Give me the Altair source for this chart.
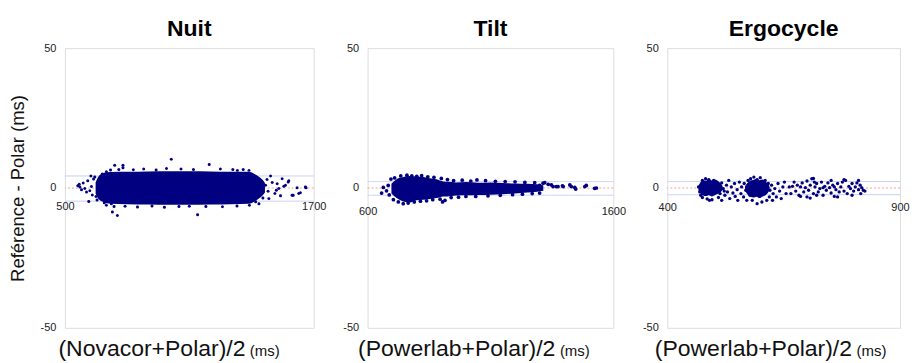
import altair as alt
import pandas as pd

FONT = "Liberation Sans"
NAVY = "#000080"
H = 280

# ---------------- Nuit ----------------
nuit_core_x = [648, 660, 684, 720, 800, 900, 1000, 1100, 1200, 1300, 1388, 1415, 1436, 1452, 1465]
nuit_core_hi = [2.0, 3.9, 5.4, 5.7, 5.8, 5.9, 6.0, 6.0, 5.9, 5.8, 5.8, 5.0, 4.0, 3.0, 1.8]
nuit_core_lo = [-2.0, -3.8, -5.0, -5.6, -5.8, -5.9, -6.0, -6.0, -5.9, -5.8, -5.6, -4.8, -3.8, -2.8, -1.6]
nuit_pts_x = [562, 569, 572, 580, 588, 596, 604, 610, 615, 620, 625, 628, 632, 638, 644, 650, 655,
              680, 700, 720, 740, 780, 780, 760, 830, 880, 940, 990, 1013, 1060, 1120, 1196, 1250, 1310, 1332, 1388, 1360,
              690, 724, 729, 737, 753, 700, 790, 850, 920, 980, 1050, 1140, 1100, 1180, 1260, 1330, 1390, 1436, 1420,
              1468, 1484, 1492, 1500, 1513, 1520, 1524, 1532, 1540, 1548, 1556, 1564, 1577, 1580, 1596, 1601, 1620,
              1628, 1636, 1660, 1663, 1475, 1455, 1480]
nuit_pts_y = [0.8, 1.3, 0.4, -0.6, 1.8, -0.2, -1.4, 2.6, -4.8, -1.0, 4.3, 0.5, -2.5, 3.2, 3.9, -3.0, -4.3,
              5.0, 5.8, 6.4, 8.1, 8.1, 7.2, 6.6, 6.5, 6.8, 6.4, 7.0, 10.3, 6.8, 6.6, 8.4, 6.8, 6.6, 6.3, 6.3, 6.6,
              -5.3, -5.6, -8.6, -6.6, -9.8, -6.2, -6.5, -6.8, -6.4, -6.9, -6.6, -9.6, -6.5, -6.6, -6.7, -6.4, -6.2, -5.6, -4.9,
              1.0, -3.8, 4.3, 2.0, -2.0, -0.8, 1.5, -0.2, -2.8, 3.3, 0.6, 1.0, 2.1, 2.6, -2.6, -2.6, 0.1,
              -2.0, -1.7, 0.4, 0.1, 3.0, -3.6, -1.2]
nuit_lines = [4.3, 0.0, -4.7]

# ---------------- Tilt ----------------
tilt_core_x = [697, 718, 745, 772, 799, 826, 853, 880, 908, 925, 960, 1000, 1050, 1100, 1150, 1200, 1250, 1290, 1315]
tilt_core_hi = [1.5, 3.1, 3.9, 4.3, 4.1, 3.9, 3.5, 3.1, 2.3, 2.2, 2.0, 2.1, 1.9, 2.0, 1.8, 1.6, 1.5, 1.3, 1.0]
tilt_core_lo = [-2.0, -3.6, -4.8, -5.2, -4.4, -4.2, -3.9, -3.6, -3.0, -3.0, -2.7, -2.6, -2.5, -2.4, -2.2, -2.0, -1.6, -1.3, -1.0]
tilt_pts_x = [657, 664, 677, 684, 688, 695,
              710, 735, 760, 780, 800, 820, 845, 870, 900, 925, 950, 985, 1020, 1045, 1080, 1120, 1160, 1200, 1240, 1280,
              705, 725, 745, 765, 790, 815, 840, 865, 895, 905, 915, 940, 970, 1000, 1040, 1090, 1140, 1190, 1230, 1270, 1300,
              1300, 1314, 1321, 1335, 1348, 1355, 1368, 1375, 1393, 1396, 1423, 1429, 1443, 1447, 1484, 1490, 1524, 1531]
tilt_pts_y = [-1.8, 0.2, -1.0, 0.9, -2.5, 3.2,
              3.6, 4.3, 4.6, 4.3, 4.2, 4.4, 4.0, 3.8, 3.4, 3.0, 2.6, 2.8, 2.5, 2.9, 2.6, 2.4, 2.3, 2.2, 2.0, 1.9,
              -4.2, -5.0, -5.6, -5.4, -5.0, -4.7, -4.6, -4.2, -4.0, -5.0, -4.4, -3.4, -3.3, -3.0, -3.0, -2.8, -2.6, -2.4, -2.2, -2.0, -1.8,
              0.9, 1.7, 1.9, 1.3, 1.1, 0.5, 0.5, 0.5, 0.8, 0.5, 1.1, 0.5, 0.2, -0.4, 0.5, 0.9, -0.1, 0.0]
tilt_lines = [2.3, 0.0, -2.6]

# ---------------- Ergocycle ----------------
ergo_blob1_x = [467, 471, 476, 483, 489, 496, 503, 509, 514, 519]
ergo_blob1_hi = [0.8, 2.0, 2.8, 2.6, 3.2, 2.7, 3.0, 2.4, 1.8, 0.6]
ergo_blob1_lo = [-1.0, -1.9, -2.6, -2.9, -2.6, -3.0, -2.5, -2.1, -1.6, -0.6]
ergo_blob2_x = [567, 572, 578, 585, 592, 598, 605, 611, 616, 620]
ergo_blob2_hi = [0.6, 1.8, 2.6, 2.9, 3.3, 2.8, 3.0, 2.2, 1.6, 0.4]
ergo_blob2_lo = [-1.0, -2.2, -3.0, -3.4, -3.1, -3.6, -3.0, -2.6, -1.8, -0.6]
ergo_pts_x = [467.1, 469.8, 475.4, 482.3, 489.2, 499.6, 506.5, 511.3, 513.4, 510, 496.1, 485.7, 475.4, 471.9, 490.6,
              516.9, 520.3, 523.8, 527.2, 529.3, 532.1, 534.2, 537.6, 541.1, 544.5, 545.9, 550.1, 551.4, 554.9, 558.3,
              559.7, 563.9, 565.3, 568.7, 570.8, 573.6, 516.9, 522.4,
              575.6, 579.1, 586, 593, 599.8, 610.2, 617.1, 620.6, 619.2, 613.7, 603.3, 593, 582.6, 577.7,
              624.1, 627.5, 631, 634.4, 637.9, 641.3, 644.8, 648.3, 651.7, 655.2, 626.1,
              665.6, 669, 672.5, 676, 679.4, 682.9, 686.3, 689.8, 693.2, 696.7, 700.2, 703.6, 707.1, 710.5, 714,
              717.4, 720.9, 724.4, 727.8, 731.3, 734.7, 738.2, 741.7, 745.1, 748.6, 752, 755.5, 758.9, 762.4, 765.9,
              769.3, 772.8, 776.2, 779.7, 783.1, 786.6, 790.1, 793.5, 797, 800.4, 803.9, 807.4, 810.8, 814.3, 817.7,
              821.2, 824.6, 700.2, 720.9, 752, 765.9, 779.7, 797, 810.8, 815.7, 758.9, 734.7, 716, 686.3, 662.1,
              714, 707]
ergo_pts_y = [0.4, -1.4, 2.7, 3.3, 3.0, 2.7, 2.1, 1.0, -2.0, -3.4, -4.2, -3.9, -3.4, -2.6, -4.4,
              1.8, -0.2, -2.6, 1.0, -1.4, 2.7, -3.8, 0.4, -1.8, 1.6, -3.0, -0.6, -4.4, 2.1, -2.0,
              0.4, -3.2, 1.6, -0.8, -4.4, 2.7, -4.4, -1.1,
              1.0, 3.3, 3.9, 3.0, 3.7, 2.7, 1.6, -0.8, -3.2, -4.4, -5.0, -5.6, -4.4, -2.6,
              1.0, -2.0, -0.2, -3.2, 1.6, -1.1, -3.8, 0.4, 2.1, -2.0, -4.4,
              -2.0, 0.6, 2.1, -1.1, 1.0, -2.6, 0.4, 1.8, -1.4, 0.1, 2.5, -0.8, 1.0, 3.3, -2.0,
              0.4, 1.6, -1.4, -0.2, 2.1, -2.6, 0.6, -0.8, 1.8, 0.1, -1.8, 1.0, -3.0, -0.6, 1.6,
              -1.4, 0.4, 2.1, -1.1, 2.7, -2.0, 0.6, -0.2, 1.6, -1.1, 0.4, 1.8, -0.6, 1.0, 0.1,
              -0.8, -1.1, -3.2, -2.6, 2.7, -3.2, 3.0, -2.6, 2.7, -2.0, 0.4, 0.1, 2.1, -3.0, 0.4,
              3.4, -3.6]
ergo_lines = [2.3, 0.0, -2.4]

line_kinds = ["upper", "mean", "lower"]


def build_panel(title, xdomain, xtitle, width, cores, pts_x, pts_y, lines, line_colors, line_dashes,
                pt_size, lab_pad, show_ytitle, title_x, ms_x):
    xenc = alt.X("x:Q",
                 scale=alt.Scale(domain=xdomain, nice=False, zero=False),
                 axis=alt.Axis(values=xdomain, offset=-H / 2, ticks=False, domain=False, grid=False,
                               labelFlush=False, labelPadding=lab_pad, labelFontSize=11, labelFont=FONT,
                               labelColor="#222222", labelExpr="'' + datum.value",
                               title=xtitle, titleFont=FONT, titleFontSize=23,
                               titleFontWeight="normal", titleColor="#111111", titleAlign="left",
                               titleBaseline="alphabetic", titleX=title_x, titleY=H / 2 + 28))
    yaxis = dict(values=[-50, 0, 50], ticks=False, domain=False, grid=False, labelPadding=9,
                 labelFontSize=11, labelFont=FONT, labelColor="#222222", labelExpr="'' + datum.value")
    if show_ytitle:
        yaxis.update(title="Reférence - Polar (ms)", titleFont=FONT, titleFontSize=18.5,
                     titleFontWeight="normal", titleColor="#111111", titlePadding=12.5)
        yenc = alt.Y("y:Q", scale=alt.Scale(domain=[-50, 50], nice=False), axis=alt.Axis(**yaxis))
    else:
        yenc = alt.Y("y:Q", scale=alt.Scale(domain=[-50, 50], nice=False), axis=alt.Axis(**yaxis), title=None)

    lines_df = pd.DataFrame({"y": lines, "kind": line_kinds})
    rules = alt.Chart(lines_df).mark_rule(strokeWidth=1).encode(
        y=yenc,
        color=alt.Color("kind:N", scale=alt.Scale(domain=line_kinds, range=line_colors), legend=None),
        strokeDash=alt.StrokeDash("kind:N", scale=alt.Scale(domain=line_kinds, range=line_dashes), legend=None),
    )
    layers = [rules]
    for cx, chi, clo in cores:
        cdf = pd.DataFrame({"x": cx, "y": clo, "y2": chi})
        layers.append(alt.Chart(cdf).mark_area(color=NAVY, opacity=1, interpolate="monotone").encode(
            x=xenc, y=yenc, y2=alt.Y2("y2:Q")))
    pdf = pd.DataFrame({"x": pts_x, "y": pts_y})
    layers.append(alt.Chart(pdf).mark_circle(color=NAVY, opacity=1, size=pt_size).encode(x=xenc, y=yenc))
    ms_df = pd.DataFrame({"t": ["(ms)"]})
    layers.append(alt.Chart(ms_df).mark_text(font=FONT, fontSize=15, align="left", baseline="alphabetic",
                                              color="#111111").encode(
        text="t:N", x=alt.value(ms_x), y=alt.value(H / 2 + 168)))
    return alt.layer(*layers).properties(
        width=width, height=H,
        title=alt.TitleParams(title, font=FONT, fontSize=23, fontWeight="bold", color="#000000",
                              offset=1, anchor="middle", frame="group"))


p1 = build_panel("Nuit", [500, 1700], "(Novacor+Polar)/2", 249,
                 [(nuit_core_x, nuit_core_hi, nuit_core_lo)], nuit_pts_x, nuit_pts_y, nuit_lines,
                 ["#c6cdf7", "#f2a0a0", "#c6cdf7"], [[1, 0], [2, 2], [1, 0]], 9, 13, True, -7, 185)
p2 = build_panel("Tilt", [600, 1600], "(Powerlab+Polar)/2", 246,
                 [(tilt_core_x, tilt_core_hi, tilt_core_lo)], tilt_pts_x, tilt_pts_y, tilt_lines,
                 ["#6f86f0", "#f08080", "#c6d4f5"], [[2, 2], [2, 2], [1, 0]], 14, 18, False, -10, 192.5)
p3 = build_panel("Ergocycle", [400, 900], "(Powerlab+Polar)/2", 233,
                 [(ergo_blob1_x, ergo_blob1_hi, ergo_blob1_lo), (ergo_blob2_x, ergo_blob2_hi, ergo_blob2_lo)],
                 ergo_pts_x, ergo_pts_y, ergo_lines,
                 ["#c6cdf7", "#f08080", "#c6cdf7"], [[1, 0], [2, 2], [1, 0]], 11, 14, False, -13, 189.5)

chart = alt.hconcat(p1, p2, p3, spacing=54, bounds="flush").properties(
    padding={"left": 0, "top": 9, "right": 0, "bottom": 0}
).configure_view(stroke="#aaaaaa", strokeWidth=2).configure(background="white")

chart.save("out.html", embed_options={"renderer": "svg", "actions": False})
